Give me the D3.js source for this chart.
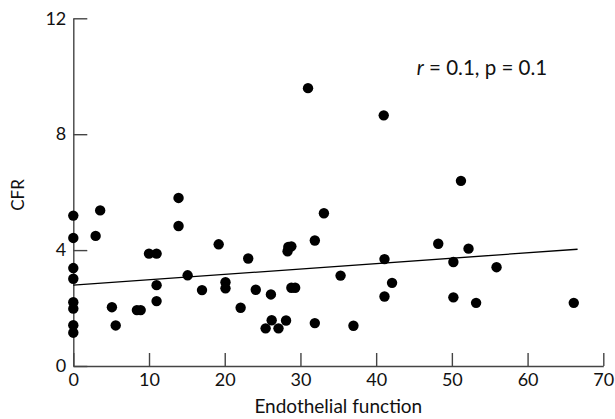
<!DOCTYPE html>
<html>
<head>
<meta charset="utf-8">
<script src="https://cdn.jsdelivr.net/npm/d3@7"></script>
<style>
  body { margin: 0; background: #fff; }
  svg text { font-family: Lato, "Open Sans", sans-serif; fill: #111; }
</style>
</head>
<body>
<div id="chart"></div>
<script>
// endothelial function (x) vs CFR (y)
const endo = [0, 0, 0, 0, 0, 0, 0, 0, 2.95, 3.55, 5.1, 5.6, 8.4, 8.9, 10.0, 11.0, 11.0, 11.0,
  13.9, 13.9, 15.1, 17.0, 19.2, 20.1, 20.1, 22.1, 23.1, 24.1, 26.1, 26.2, 25.4, 27.1, 28.1,
  28.3, 28.4, 28.8, 28.8, 29.3, 31.0, 31.9, 31.9, 33.1, 35.3, 37.0, 41.0, 41.1, 41.1, 42.1,
  48.2, 50.2, 50.2, 51.2, 52.2, 53.2, 55.9, 66.1];
const cfr = [5.19, 4.42, 3.38, 3.01, 2.2, 1.98, 1.41, 1.15, 4.49, 5.37, 2.03, 1.4, 1.93, 1.93, 3.88, 3.88, 2.79, 2.24,
  5.8, 4.83, 3.13, 2.62, 4.2, 2.89, 2.68, 2.01, 3.71, 2.63, 2.47, 1.58, 1.3, 1.3, 1.57,
  3.96, 4.11, 4.13, 2.7, 2.7, 9.59, 4.33, 1.48, 5.27, 3.12, 1.39, 8.65, 3.69, 2.4, 2.87,
  4.22, 3.59, 2.37, 6.39, 4.05, 2.18, 3.41, 2.18];

// fitted line, end points
const fitX = [0, 66.6];
const fitY = [2.79, 4.03];

const xTicks = [0, 10, 20, 30, 40, 50, 60, 70];
const yTicks = [0, 4, 8, 12];

const W = 615, H = 419;
const svg = d3.select('#chart').append('svg')
    .attr('width', W)
    .attr('height', H);

const x = d3.scaleLinear().domain([0, 70]).range([73.3, 603.3]);
const y = d3.scaleLinear().domain([0, 12]).range([366, 18.3]);

// axes, ticks point inward
const xAxis = svg.append('g')
    .attr('transform', `translate(0,${y(0)})`)
    .call(d3.axisBottom(x).tickValues(xTicks).tickSizeInner(-13).tickSizeOuter(0).tickPadding(7));

const yAxis = svg.append('g')
    .attr('transform', `translate(${x(0)},0)`)
    .call(d3.axisLeft(y).tickValues(yTicks).tickSizeInner(-14).tickSizeOuter(0).tickPadding(7));

[xAxis, yAxis].forEach(a => {
    a.selectAll('path, line').attr('stroke', '#444').attr('stroke-width', 1.4);
    a.selectAll('text').style('font-size', '18px').attr('fill', '#111');
});

// regression line
svg.append('line')
    .attr('x1', x(fitX[0])).attr('y1', y(fitY[0]))
    .attr('x2', x(fitX[1])).attr('y2', y(fitY[1]))
    .attr('stroke', '#000')
    .attr('stroke-width', 1.3);

// points
svg.selectAll('circle.pt')
    .data(endo.map((d, i) => [d, cfr[i]]))
    .enter().append('circle')
    .attr('class', 'pt')
    .attr('cx', d => x(d[0]))
    .attr('cy', d => y(d[1]))
    .attr('r', 5.2)
    .attr('fill', '#000');

// labels
svg.append('text')
    .attr('x', (x(0) + x(70)) / 2)
    .attr('y', 413)
    .attr('text-anchor', 'middle')
    .style('font-size', '19px')
    .text('Endothelial function');

svg.append('text')
    .attr('transform', 'translate(24,195) rotate(-90)')
    .attr('text-anchor', 'middle')
    .style('font-size', '17px')
    .text('CFR');

const note = svg.append('text')
    .attr('x', 482)
    .attr('y', 75)
    .attr('text-anchor', 'middle')
    .style('font-size', '20.5px');
note.append('tspan').style('font-style', 'italic').text('r');
note.append('tspan').text(' = 0.1, p = 0.1');
</script>
</body>
</html>
